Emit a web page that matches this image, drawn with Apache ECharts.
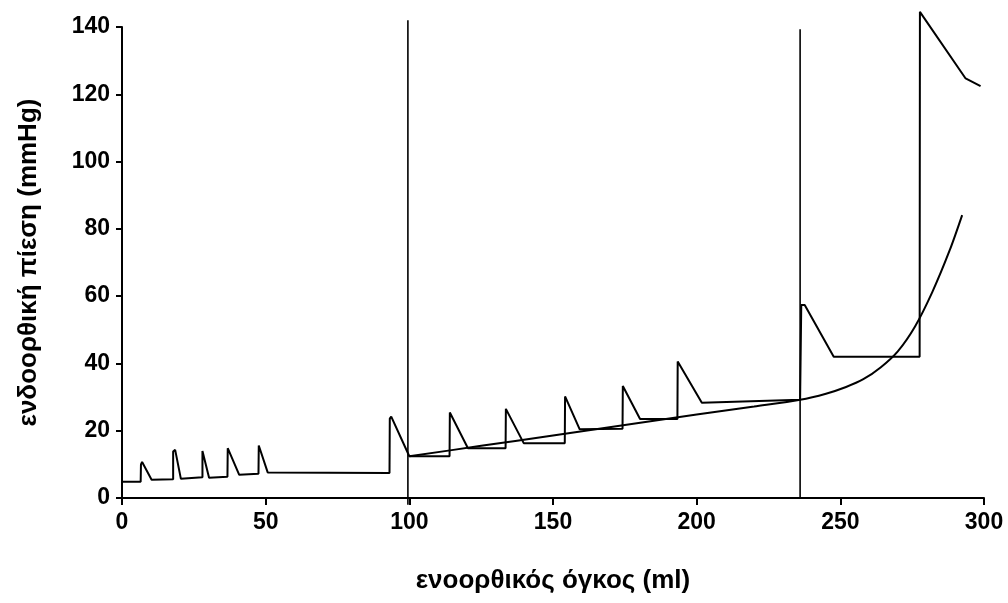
<!DOCTYPE html>
<html>
<head>
<meta charset="utf-8">
<script src="https://cdn.jsdelivr.net/npm/echarts@6/dist/echarts.min.js"></script>
<style>
html,body{margin:0;padding:0;background:#fff;}
#chart{width:1008px;height:603px;}
</style>
</head>
<body>
<div id="chart"></div>
<script>
// Pressure trace (volume ml, pressure mmHg)
var traceVol   = [0, 6.5, 6.6, 7.0, 10.3, 17.8, 17.8, 18.5, 20.5, 28.0, 28.0, 28.6, 30.3, 36.7, 36.8, 37.1, 40.8, 47.5, 47.6, 47.9, 50.7, 93.1, 93.2, 93.7, 100.0, 114.0, 114.1, 114.3, 120.4, 133.5, 133.6, 133.9, 139.8, 154.1, 154.2, 154.5, 159.3, 174.2, 174.3, 174.5, 180.3, 193.3, 193.4, 193.5, 201.8, 236.0, 236.4, 237.6, 247.7, 277.6, 277.7, 278.1, 293.6, 298.8];
var tracePress = [4.8, 4.8, 10.0, 10.7, 5.4, 5.6, 13.8, 14.3, 5.7, 6.2, 14.0, 14.5, 6.0, 6.3, 14.8, 15.3, 6.9, 7.2, 15.6, 16.1, 7.6, 7.4, 23.6, 24.2, 12.4, 12.4, 25.4, 25.9, 14.8, 14.8, 26.5, 27.0, 16.3, 16.3, 30.2, 30.7, 20.4, 20.6, 33.3, 33.8, 23.5, 23.5, 40.6, 41.1, 28.3, 29.2, 57.4, 57.4, 42.0, 42.0, 144.5, 145.0, 124.7, 122.4];
// Compliance curve
var curveVol   = [100, 125, 150, 175, 200, 220, 236, 245, 252, 258, 264, 270, 276, 282, 288, 292.4];
var curvePress = [12.4, 15.5, 18.6, 21.7, 24.8, 27.2, 29.2, 31.0, 33.0, 35.3, 38.8, 43.6, 51.0, 61.2, 73.5, 84.1];
// Vertical markers
var markerVol    = [99.5, 236.0];
var markerBottom = [-2, 0];
var markerTop    = [142.0, 139.3];

var xTicks = [0, 50, 100, 150, 200, 250, 300];
var yTicks = [0, 20, 40, 60, 80, 100, 120, 140];

function zip(a, b) { return a.map(function (v, i) { return [v, b[i]]; }); }

var series = [
  { type: 'line', data: zip(traceVol, tracePress), showSymbol: false, clip: false,
    lineStyle: { color: '#000', width: 2 }, silent: true },
  { type: 'line', data: zip(curveVol, curvePress), showSymbol: false, clip: false, smooth: 0.3,
    lineStyle: { color: '#000', width: 2 }, silent: true }
];
markerVol.forEach(function (v, i) {
  series.push({ type: 'line', data: [[v, markerBottom[i]], [v, markerTop[i]]], showSymbol: false, clip: false,
    lineStyle: { color: '#000', width: 1.6 }, silent: true });
});

var chart = echarts.init(document.getElementById('chart'), null, { renderer: 'canvas' });
chart.setOption({
  animation: false,
  backgroundColor: '#fff',
  grid: { left: 122, right: 24, top: 27, bottom: 105 },
  xAxis: {
    type: 'value', min: xTicks[0], max: xTicks[xTicks.length - 1], interval: 50,
    name: 'ενοορθικός όγκος (ml)', nameLocation: 'middle', nameGap: 70,
    nameTextStyle: { color: '#000', fontFamily: 'Liberation Sans', fontWeight: 'bold', fontSize: 26 },
    axisLine: { lineStyle: { color: '#000', width: 2 } },
    axisTick: { show: true, length: 7, lineStyle: { color: '#000', width: 2 } },
    axisLabel: { color: '#000', fontFamily: 'Liberation Sans', fontWeight: 'bold', fontSize: 23, margin: 13 },
    splitLine: { show: false }
  },
  yAxis: {
    type: 'value', min: yTicks[0], max: yTicks[yTicks.length - 1], interval: 20,
    name: 'ενδοορθική πίεση (mmHg)', nameLocation: 'middle', nameGap: 80,
    nameTextStyle: { color: '#000', fontFamily: 'Liberation Sans', fontWeight: 'bold', fontSize: 26 },
    axisLine: { show: true, lineStyle: { color: '#000', width: 2 } },
    axisTick: { show: true, length: 6, lineStyle: { color: '#000', width: 2 } },
    axisLabel: { color: '#000', fontFamily: 'Liberation Sans', fontWeight: 'bold', fontSize: 23, margin: 12 },
    splitLine: { show: false }
  },
  series: series
});
</script>
</body>
</html>
